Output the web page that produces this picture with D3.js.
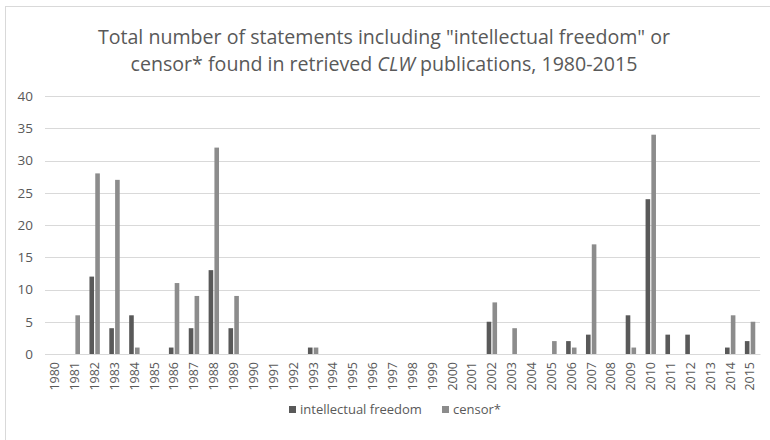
<!DOCTYPE html>
<html>
<head>
<meta charset="utf-8">
<script src="https://cdn.jsdelivr.net/npm/d3@7"></script>
<style>
  body { margin: 0; background: #fff; }
  svg { display: block; font-family: "Open Sans", "Noto Sans", sans-serif; }
</style>
</head>
<body>
<svg></svg>
<script>
const width = 770;
const height = 440;

// data
const years = d3.range(1980, 2016).map(String);
const freedom = [0,0,12,4,6,0,1,4,13,4, 0,0,0,1,0,0,0,0,0,0, 0,0,5,0,0,0,2,3,0,6, 24,3,3,0,1,2];
const censor  = [0,6,28,27,1,0,11,9,32,9, 0,0,0,1,0,0,0,0,0,0, 0,0,8,4,0,2,1,17,0,1, 34,0,0,0,6,5];
const seriesNames = ["intellectual freedom", "censor*"];
const colors = ["#595959", "#8c8c8c"];
const yTicks = [0, 5, 10, 15, 20, 25, 30, 35, 40];

const svg = d3.select("svg")
  .attr("width", width)
  .attr("height", height);

// chart border
svg.append("rect")
  .attr("x", 5.5).attr("y", 6.5)
  .attr("width", 775).attr("height", 450)
  .attr("fill", "#fff")
  .attr("stroke", "#d9d9d9");

// title
const title = svg.append("text")
  .attr("x", 384)
  .attr("text-anchor", "middle")
  .attr("fill", "#595959")
  .style("font-size", "19.6px");
title.append("tspan").attr("x", 384).attr("y", 44)
  .text("Total number of statements including \"intellectual freedom\" or");
const l2 = title.append("tspan").attr("x", 384).attr("y", 71);
l2.append("tspan").text("censor* found in retrieved ");
l2.append("tspan").style("font-style", "italic").text("CLW");
l2.append("tspan").text(" publications, 1980-2015");

const margin = { left: 45, right: 10 };
const x = d3.scaleBand()
  .domain(years)
  .range([margin.left, width - margin.right]);

const y = d3.scaleLinear()
  .domain([0, 40])
  .range([354, 96]);

// gridlines
svg.append("g")
  .selectAll("line")
  .data(yTicks)
  .enter()
  .append("line")
  .attr("x1", margin.left)
  .attr("x2", width - margin.right)
  .attr("y1", d => Math.round(y(d)) + 0.5)
  .attr("y2", d => Math.round(y(d)) + 0.5)
  .attr("stroke", "#d9d9d9");

// y axis labels
const yAxis = svg.append("g")
  .attr("transform", `translate(${margin.left},0)`)
  .call(d3.axisLeft(y).tickValues(yTicks).tickSize(0).tickPadding(12));
yAxis.select(".domain").remove();
yAxis.selectAll("text")
  .attr("fill", "#595959")
  .style("font-size", "13.5px")
  .style("font-family", "\"Open Sans\", \"Noto Sans\", sans-serif");

// bars
const barW = 4.6;
const data = years.map((yr, i) => ({ year: yr, values: [freedom[i], censor[i]] }));
const groups = svg.append("g")
  .selectAll("g")
  .data(data)
  .enter()
  .append("g")
  .attr("transform", d => `translate(${x(d.year) + x.bandwidth() / 2},0)`);

groups.selectAll("rect")
  .data(d => d.values.map((v, k) => ({ v, k })))
  .enter()
  .append("rect")
  .attr("x", d => d.k === 0 ? -barW - 0.6 : 0.6)
  .attr("y", d => y(d.v))
  .attr("width", barW)
  .attr("height", d => y(0) - y(d.v))
  .attr("fill", d => colors[d.k]);

// x axis
const xAxis = svg.append("g")
  .attr("transform", `translate(0,${y(0)})`)
  .call(d3.axisBottom(x).tickSize(0).tickPadding(0));
xAxis.select(".domain").attr("stroke", "#d9d9d9");
xAxis.selectAll("text")
  .attr("fill", "#595959")
  .style("font-size", "12.5px")
  .style("font-family", "\"Open Sans\", \"Noto Sans\", sans-serif")
  .attr("text-anchor", "end")
  .attr("transform", "rotate(-90)")
  .attr("x", -8)
  .attr("y", 0)
  .attr("dy", "0.35em");

// legend
const legend = svg.append("g");
const legendPos = [289, 442];
seriesNames.forEach((name, i) => {
  legend.append("rect")
    .attr("x", legendPos[i])
    .attr("y", 406)
    .attr("width", 7)
    .attr("height", 7)
    .attr("fill", colors[i]);
  legend.append("text")
    .attr("x", legendPos[i] + 11)
    .attr("y", 414)
    .attr("fill", "#595959")
    .style("font-size", "13px")
    .text(name);
});
</script>
</body>
</html>
